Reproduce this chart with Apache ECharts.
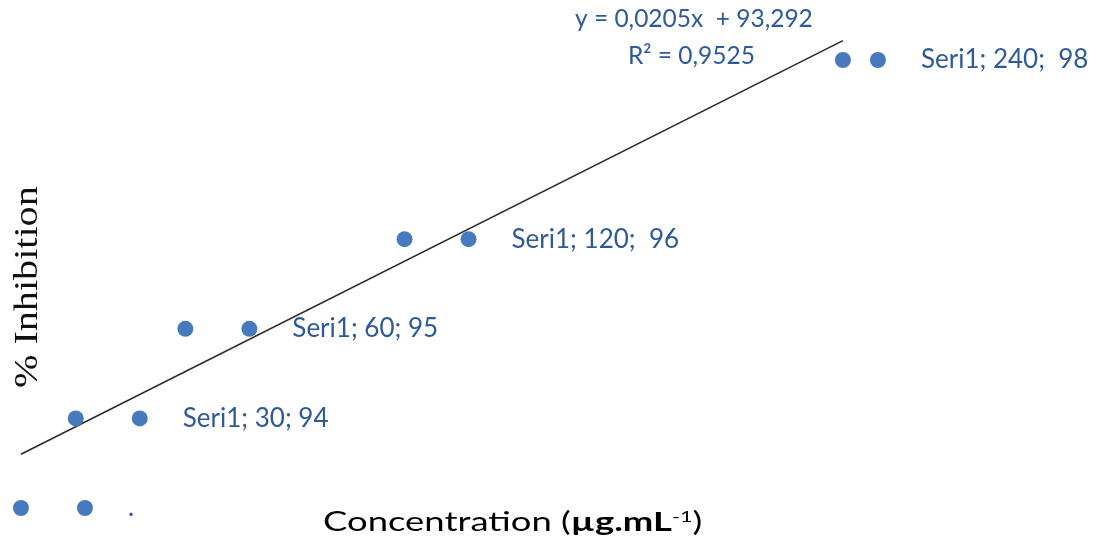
<!DOCTYPE html>
<html>
<head>
<meta charset="utf-8">
<script src="https://cdn.jsdelivr.net/npm/echarts@6/dist/echarts.min.js"></script>
<style>
html,body{margin:0;padding:0;background:#fff;}
#chart{width:1094px;height:546px;}
</style>
</head>
<body>
<div id="chart"></div>
<script>
// Data
const concentrations = [15, 30, 60, 120, 240];
const inhibition = [93, 94, 95, 96, 98];
const pointLabels = ['.', 'Seri1; 30; 94', 'Seri1; 60; 95', 'Seri1; 120;  96', 'Seri1; 240;  98'];
const equationText = 'y = 0,0205x  + 93,292';
const r2Text = 'R² = 0,9525';
const xTitle = 'Concentration';
const yTitle = '% Inhibition';

// linear regression for trendline
const n = concentrations.length;
const mx = concentrations.reduce((a, b) => a + b, 0) / n;
const my = inhibition.reduce((a, b) => a + b, 0) / n;
let sxy = 0, sxx = 0;
for (let i = 0; i < n; i++) {
  sxy += (concentrations[i] - mx) * (inhibition[i] - my);
  sxx += (concentrations[i] - mx) * (concentrations[i] - mx);
}
const slope = sxy / sxx;
const intercept = my - slope * mx;
const xMin = Math.min(...concentrations), xMax = Math.max(...concentrations);
const trend = [[xMin, intercept + slope * xMin], [xMax, intercept + slope * xMax]];

const LABEL_COLOR = '#2f5a98';
const DOT_COLOR = '#4679bd';

const scatterData = concentrations.map((x, i) => ({
  value: [x, inhibition[i]],
  label: {
    distance: i === n - 1 ? 19 : 48,
    formatter: '{dot|}{t|' + pointLabels[i] + '}'
  }
}));

const chart = echarts.init(document.getElementById('chart'), null, {renderer: 'canvas'});
chart.setOption({
  backgroundColor: '#ffffff',
  animation: false,
  grid: {left: 2.7, right: 68.4, top: 15.2, bottom: 20.1, outerBoundsMode: 'none'},
  xAxis: {
    type: 'value', min: 10, max: 290,
    axisLine: {show: false}, axisTick: {show: false}, axisLabel: {show: false}, splitLine: {show: false}
  },
  yAxis: {
    type: 'value', min: 92.8, max: 98.5,
    axisLine: {show: false}, axisTick: {show: false}, axisLabel: {show: false}, splitLine: {show: false}
  },
  series: [
    {
      type: 'line',
      data: trend,
      symbol: 'none',
      lineStyle: {color: '#2b2b2b', width: 1.6},
      silent: true,
      z: 1
    },
    {
      type: 'scatter',
      data: scatterData,
      symbol: 'circle',
      symbolSize: 16,
      itemStyle: {color: DOT_COLOR, opacity: 1},
      clip: false,
      z: 2,
      label: {
        show: true,
        position: 'right',
        rich: {
          dot: {width: 16, height: 16, borderRadius: 8, backgroundColor: DOT_COLOR, verticalAlign: 'middle'},
          t: {fontFamily: 'Lato', fontSize: 26, color: LABEL_COLOR, padding: [0, 0, 0, 35], verticalAlign: 'middle', lineHeight: 28}
        }
      }
    }
  ],
  graphic: [
    {
      type: 'text', left: 575, top: 7,
      style: {text: equationText, font: '24.5px Lato', fill: LABEL_COLOR}
    },
    {
      type: 'text', left: 628, top: 44,
      style: {text: r2Text, font: '24.5px Lato', fill: LABEL_COLOR}
    },
    {
      type: 'text', x: 323, y: 509, scaleX: 1.35, scaleY: 1,
      style: {
        text: '{a|' + xTitle + ' }{p|(}{b|µg.mL}{m|-}{s|1}{p|)}',
        rich: {
          a: {fontFamily: 'Lato', fontSize: 27, color: '#222222', verticalAlign: 'bottom'},
          p: {fontFamily: 'Lato', fontSize: 27, color: '#1f3864', verticalAlign: 'bottom'},
          b: {fontFamily: 'Lato', fontSize: 27, fontWeight: 'bold', color: '#111111', verticalAlign: 'bottom'},
          m: {fontFamily: 'Lato', fontSize: 16, color: '#d02020', verticalAlign: 'top'},
          s: {fontFamily: 'Lato', fontSize: 16, color: '#1f3864', verticalAlign: 'top'}
        }
      }
    },
    {
      type: 'text', x: 11, y: 388, rotation: Math.PI / 2, scaleX: 1.18, scaleY: 1,
      style: {text: yTitle, font: '34px "Liberation Serif"', fill: '#111111', textAlign: 'left', textVerticalAlign: 'top'}
    }
  ]
});
</script>
</body>
</html>
